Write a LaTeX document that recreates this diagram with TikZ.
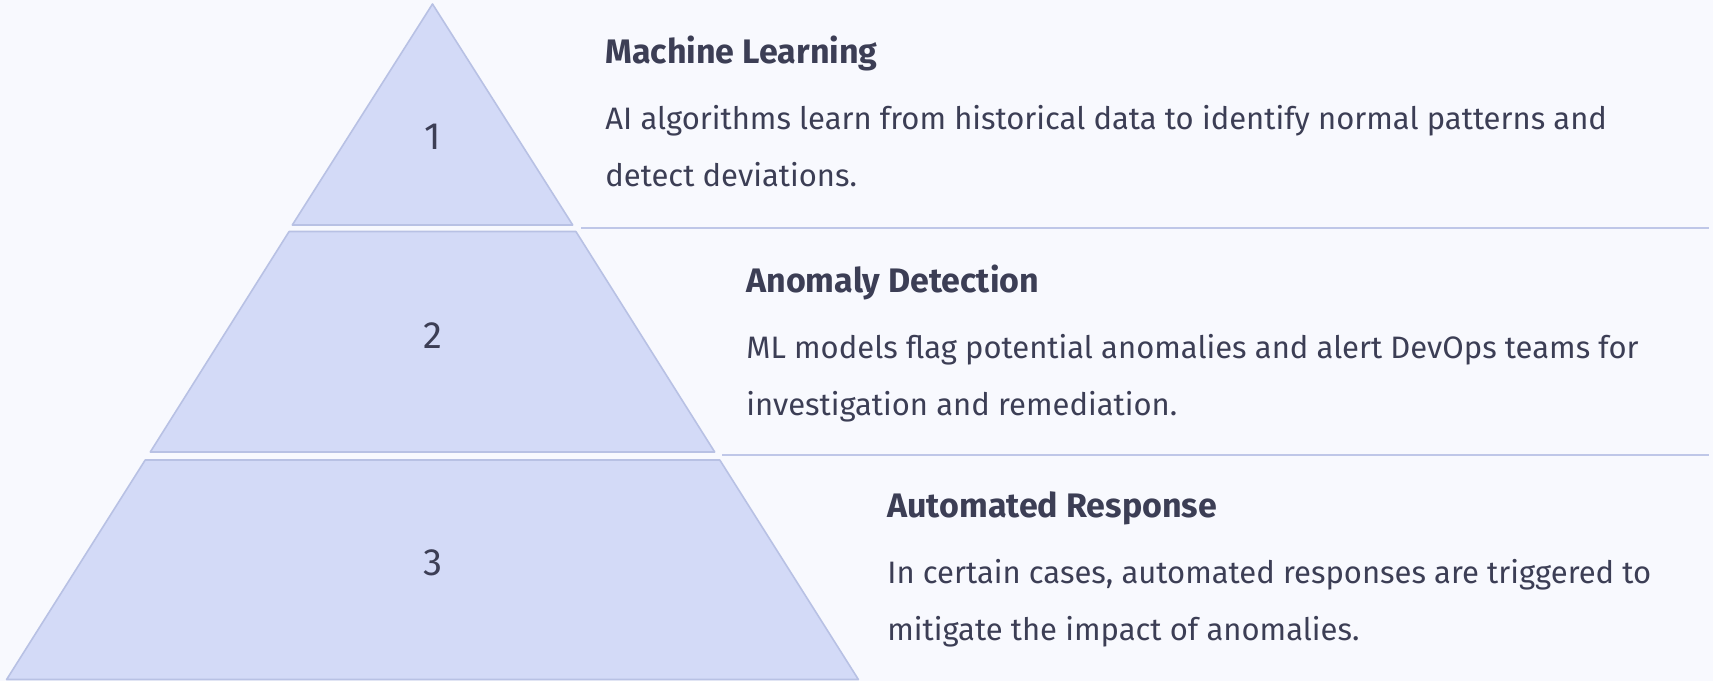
\documentclass[tikz,border=0pt]{standalone}
\usepackage{fontspec}
\setmainfont{Fira Sans}
\definecolor{bgc}{HTML}{F8F9FE}
\definecolor{tierfill}{HTML}{D3DAF7}
\definecolor{tieredge}{HTML}{B8C1E4}
\definecolor{sepc}{HTML}{BFC7E8}
\definecolor{txt}{HTML}{3C3E55}
\tikzset{
  tier/.style={fill=tierfill, draw=tieredge, line width=0.8pt, line join=round},
  sepline/.style={draw=sepc, line width=1pt},
  numlabel/.style={text=txt, font=\fontsize{19}{22}\selectfont, inner sep=0pt},
  ttl/.style={text=txt, font=\fontsize{17}{20}\selectfont\bfseries, anchor=base west, inner sep=0pt},
  body/.style={text=txt, font=\fontsize{15.5}{20}\selectfont, anchor=base west, inner sep=0pt}
}
\begin{document}
\begin{tikzpicture}[x=0.5pt, y=-0.5pt]
\fill[bgc] (0,0) rectangle (1713,681);
\useasboundingbox (0,0) rectangle (1713,681);
% tiers
\path[tier] (432.5,4) -- (572.7,225) -- (292.3,225) -- cycle;
\path[tier] (289.1,231.5) -- (575.9,231.5) -- (714.7,452) -- (150.3,452) -- cycle;
\path[tier] (145.2,460) -- (719.8,460) -- (858.4,679.5) -- (6.6,679.5) -- cycle;
% numbers
\node[numlabel] (n1) at (432.5,137) {1};
\node[numlabel] (n2) at (432.5,336) {2};
\node[numlabel] (n3) at (432.5,563) {3};
% separator lines
\coordinate (s1a) at (581,227.5);
\coordinate (s1b) at (1709,227.5);
\coordinate (s2a) at (722,455);
\coordinate (s2b) at (1709,455);
\draw[sepline] (s1a) -- (s1b);
\draw[sepline] (s2a) -- (s2b);
% texts
\node[ttl] (t1) at (605,63) {Machine Learning};
\node[body] (b1a) at (605,129.5) {AI algorithms learn from historical data to identify normal patterns and};
\node[body] (b1b) at (605,186) {detect deviations.};
\node[ttl] (t2) at (746,292) {Anomaly Detection};
\node[body] (b2a) at (746,358.5) {ML models flag potential anomalies and alert DevOps teams for};
\node[body] (b2b) at (746,415) {investigation and remediation.};
\node[ttl] (t3) at (887,517) {Automated Response};
\node[body] (b3a) at (887,583.5) {In certain cases, automated responses are triggered to};
\node[body] (b3b) at (887,640) {mitigate the impact of anomalies.};
\end{tikzpicture}
\end{document}
